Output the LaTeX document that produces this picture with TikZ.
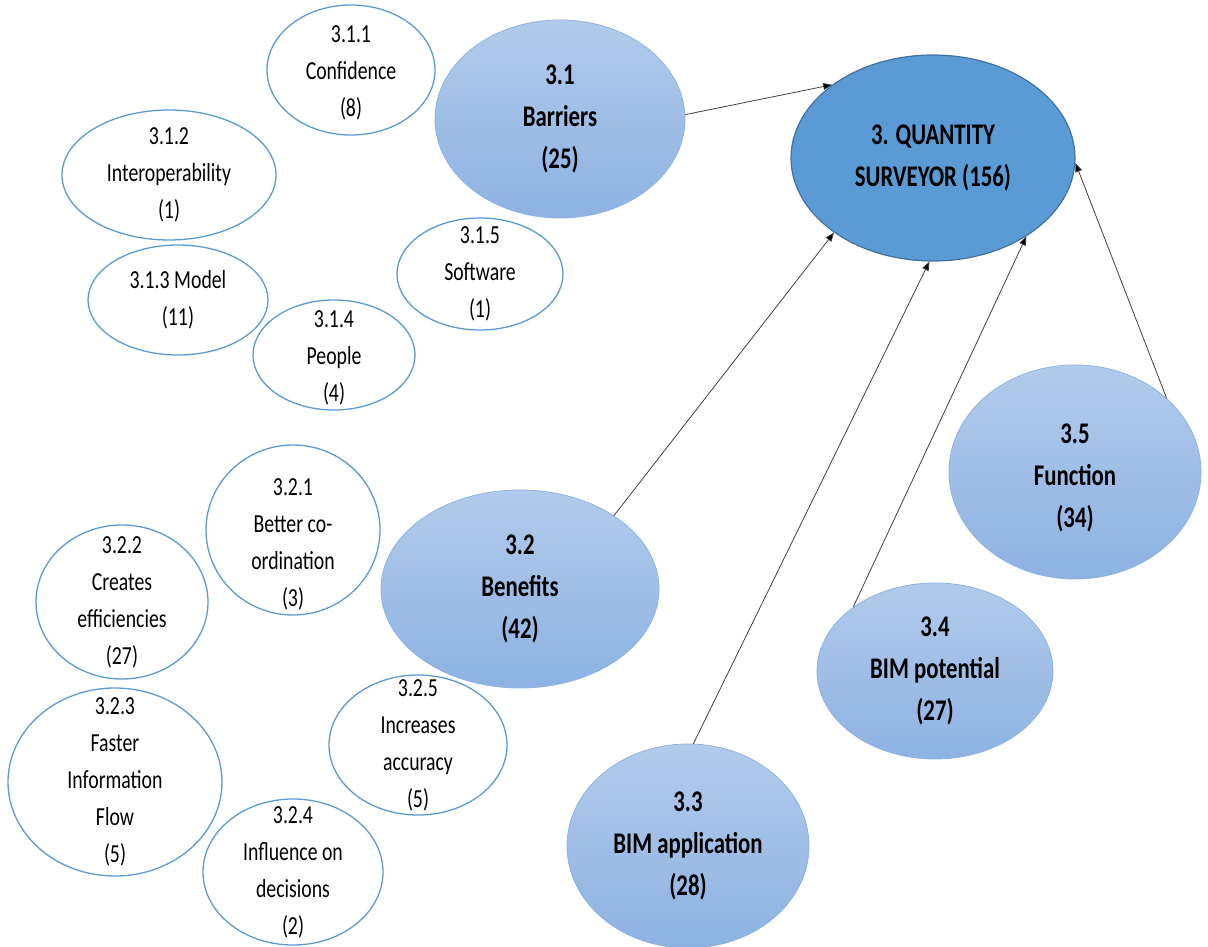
\documentclass[tikz,border=0pt]{standalone}
\usepackage{fontspec}
\setmainfont[FakeStretch=0.76]{Carlito}
\usetikzlibrary{shapes.geometric,shadings,arrows.meta}

\definecolor{leafline}{HTML}{5B9BD5}
\definecolor{midtop}{HTML}{B2CBEB}
\definecolor{midbot}{HTML}{8DB2E2}
\definecolor{midline}{HTML}{8FB3E0}
\definecolor{rootfill}{HTML}{5B9BD5}
\definecolor{rootline}{HTML}{41719C}
\definecolor{linkgray}{HTML}{404040}

\tikzset{
  leaf/.style={ellipse, draw=leafline, line width=1.3pt, fill=white, inner sep=0pt},
  leaftext/.style={align=center, font=\fontsize{26}{37}\selectfont, inner sep=0pt},
  theme/.style={ellipse, draw=midline, line width=0.8pt, top color=midtop, bottom color=midbot, inner sep=0pt},
  themetext/.style={align=center, font=\fontsize{30}{42}\selectfont\bfseries, inner sep=0pt},
  root/.style={ellipse, draw=rootline, line width=1.2pt, fill=rootfill, inner sep=0pt},
  link/.style={draw=linkgray, line width=0.8pt, -{Triangle[length=9pt,width=7pt,fill=black]}}
}

\begin{document}
\begin{tikzpicture}[x=1pt, y=-1pt]
\useasboundingbox (0,0) rectangle (1208,947);

% central theme
\node[root, minimum width=284, minimum height=206] (qs) at (933,158) {};
\node[themetext] (tqs) at (qs) {3. QUANTITY\\SURVEYOR (156)};

% barriers group
\node[leaf, minimum width=168, minimum height=130] (c311) at (351,70) {};
\node[leaftext] (t311) at ([yshift=-3pt]c311.center) {3.1.1\\Confidence\\(8)};
\node[leaf, minimum width=214, minimum height=130] (c312) at (169,175) {};
\node[leaftext] (t312) at (c312) {3.1.2\\Interoperability\\(1)};
\node[leaf, minimum width=180, minimum height=110] (c313) at (178,300) {};
\node[leaftext] (t313) at (c313) {3.1.3 Model\\(11)};
\node[leaf, minimum width=162, minimum height=110] (c314) at (334,355) {};
\node[leaftext] (t314) at ([yshift=-3pt]c314.center) {3.1.4\\People\\(4)};
\node[leaf, minimum width=166, minimum height=112] (c315) at (480,274) {};
\node[leaftext] (t315) at (c315) {3.1.5\\Software\\(1)};
\node[theme, minimum width=250, minimum height=198] (c31) at (560,119) {};
\node[themetext] (t31) at (c31) {3.1\\Barriers\\(25)};

% benefits group
\node[leaf, minimum width=174, minimum height=170] (c321) at (293,530) {};
\node[leaftext] (t321) at ([yshift=-14pt]c321.center) {3.2.1\\Better co-\\ordination\\(3)};
\node[leaf, minimum width=172, minimum height=154] (c322) at (122,602) {};
\node[leaftext] (t322) at (c322) {3.2.2\\Creates\\efficiencies\\(27)};
\node[leaf, minimum width=214, minimum height=188] (c323) at (115,782) {};
\node[leaftext] (t323) at (c323) {3.2.3\\Faster\\Information\\Flow\\(5)};
\node[leaf, minimum width=180, minimum height=146] (c324) at (293,872) {};
\node[leaftext] (t324) at (c324) {3.2.4\\Influence on\\decisions\\(2)};
\node[leaf, minimum width=178, minimum height=140] (c325) at (418,745) {};
\node[leaftext] (t325) at (c325) {3.2.5\\Increases\\accuracy\\(5)};
\node[theme, minimum width=278, minimum height=198] (c32) at (520,589) {};
\node[themetext] (t32) at (c32) {3.2\\Benefits\\(42)};

% remaining themes
\node[theme, minimum width=242, minimum height=204] (c33) at (688,846) {};
\node[themetext] (t33) at (c33) {3.3\\BIM application\\(28)};
\node[theme, minimum width=236, minimum height=176] (c34) at (935,671) {};
\node[themetext] (t34) at (c34) {3.4\\BIM potential\\(27)};
\node[theme, minimum width=252, minimum height=214] (c35) at (1075,472) {};
\node[themetext] (t35) at ([yshift=-6pt]c35.center) {3.5\\Function\\(34)};

% links to the central theme
\draw[link] (c31.2) -- (qs.144);
\draw[link] (c32.38) -- (qs.217);
\draw[link] (c33.87) -- (qs.268);
\draw[link] (c34.142) -- (qs.320);
\draw[link] (c35.39) -- (qs.358);
\end{tikzpicture}
\end{document}
